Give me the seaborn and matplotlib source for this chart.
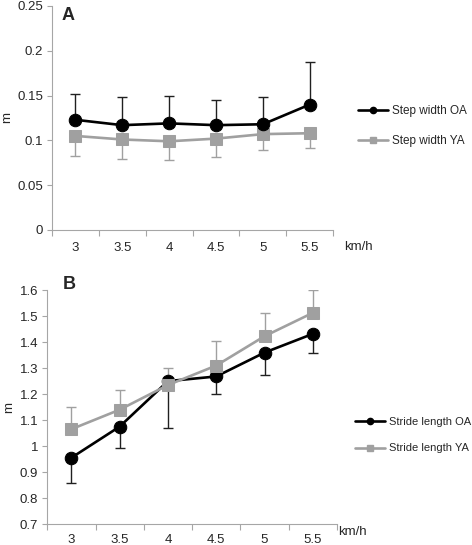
import matplotlib
matplotlib.use("Agg")
import matplotlib.pyplot as plt
from matplotlib.lines import Line2D
import seaborn as sns
import pandas as pd
import numpy as np

speeds = [3, 3.5, 4, 4.5, 5, 5.5]
speed_labels = ["3", "3.5", "4", "4.5", "5", "5.5"]

step_oa = [0.123, 0.117, 0.119, 0.117, 0.118, 0.140]
step_oa_sd = [0.029, 0.031, 0.030, 0.028, 0.030, 0.048]
step_ya = [0.105, 0.101, 0.099, 0.102, 0.107, 0.108]
step_ya_sd = [0.022, 0.022, 0.021, 0.020, 0.018, 0.017]

stride_oa = [0.955, 1.075, 1.250, 1.268, 1.360, 1.432]
stride_oa_sd = [0.097, 0.082, 0.180, 0.068, 0.087, 0.075]
stride_ya = [1.065, 1.140, 1.235, 1.310, 1.423, 1.513]
stride_ya_sd = [0.085, 0.075, 0.065, 0.095, 0.089, 0.087]

sns.set_style("white")
plt.rcParams['font.family'] = ['Liberation Sans', 'DejaVu Sans']

BLACK = "#000000"
GREY = "#a0a0a0"
SPINE = "#a6a6a6"

fig = plt.figure(figsize=(4.72, 5.45), dpi=100)
axA = fig.add_axes([0.110, 0.578, 0.596, 0.411])
axB = fig.add_axes([0.100, 0.0385, 0.614, 0.429])


def draw(ax, oa, oa_sd, ya, ya_sd, names, oa_up, ylim, yticks, yfmt,
         leg_pos, leg_font, leg_space, leg_hlen, xpad):
    df = pd.DataFrame({
        "speed": speeds * 2,
        "value": oa + ya,
        "group": [names[0]] * len(speeds) + [names[1]] * len(speeds),
    })
    z = np.zeros(len(speeds))
    if oa_up:
        ax.errorbar(speeds, oa, yerr=[z, oa_sd], fmt="none", ecolor="#202020",
                    elinewidth=1.0, capsize=3.5, capthick=1.0, zorder=1)
        ax.errorbar(speeds, ya, yerr=[ya_sd, z], fmt="none", ecolor=GREY,
                    elinewidth=1.0, capsize=3.5, capthick=1.0, zorder=1)
    else:
        ax.errorbar(speeds, oa, yerr=[oa_sd, z], fmt="none", ecolor="#202020",
                    elinewidth=1.0, capsize=3.5, capthick=1.0, zorder=1)
        ax.errorbar(speeds, ya, yerr=[z, ya_sd], fmt="none", ecolor=GREY,
                    elinewidth=1.0, capsize=3.5, capthick=1.0, zorder=1)
    order = [names[1], names[0]] if oa_up else [names[0], names[1]]
    for g in order:
        sub = df[df.group == g]
        is_oa = g == names[0]
        sns.lineplot(data=sub, x="speed", y="value", ax=ax,
                     color=BLACK if is_oa else GREY,
                     marker="o" if is_oa else "s",
                     markersize=9 if is_oa else 8.5,
                     markeredgecolor=BLACK if is_oa else GREY,
                     linewidth=1.9, legend=False, zorder=3)
    ax.set_xlim(2.75, 5.75)
    ax.set_ylim(*ylim)
    ax.set_yticks(yticks)
    ax.set_yticklabels([yfmt(v) for v in yticks])
    ax.set_xticks(speeds)
    ax.set_xticklabels(speed_labels)
    ax.set_xticks(np.arange(2.75, 5.76, 0.5), minor=True)
    ax.tick_params(axis="x", which="major", length=0, pad=xpad, labelsize=9.5)
    ax.tick_params(axis="x", which="minor", length=4, color=SPINE, width=0.8, direction="out")
    ax.tick_params(axis="y", length=3.5, color=SPINE, width=0.8, direction="out", labelsize=9.5, pad=3)
    ax.tick_params(bottom=True, left=True, which="both")
    for s in ["top", "right"]:
        ax.spines[s].set_visible(False)
    for s in ["left", "bottom"]:
        ax.spines[s].set_color(SPINE)
        ax.spines[s].set_linewidth(0.8)
    ax.set_xlabel("")
    ax.set_ylabel("m", fontsize=9.5, labelpad=3)
    handles = [
        Line2D([0], [0], color=BLACK, lw=1.9, marker="o", markersize=4.5),
        Line2D([0], [0], color=GREY, lw=1.9, marker="s", markersize=4.5),
    ]
    ax.legend(handles, names, loc="center left", bbox_to_anchor=leg_pos,
              bbox_transform=fig.transFigure,
              frameon=False, fontsize=leg_font, handlelength=leg_hlen, handletextpad=0.35,
              labelspacing=leg_space, borderaxespad=0, borderpad=0)


draw(axA, step_oa, step_oa_sd, step_ya, step_ya_sd,
     ["Step width OA", "Step width YA"], True, (0, 0.25),
     [0, 0.05, 0.1, 0.15, 0.2, 0.25], lambda v: "0" if v == 0 else f"{v:g}",
     (358 / 472, 1 - 126 / 545), 8.5, 1.55, 2.55, 9)
draw(axB, stride_oa, stride_oa_sd, stride_ya, stride_ya_sd,
     ["Stride length OA", "Stride length YA"], False, (0.7, 1.6),
     [0.7, 0.8, 0.9, 1.0, 1.1, 1.2, 1.3, 1.4, 1.5, 1.6], lambda v: f"{v:g}",
     (355 / 472, 1 - 435 / 545), 8, 1.52, 2.7, 7.5)

fig.text(62 / 472, 1 - 7 / 545, "A", fontsize=13, fontweight="bold", va="top", ha="left")
fig.text(63 / 472, 1 - 276 / 545, "B", fontsize=13, fontweight="bold", va="top", ha="left")

fig.text(344 / 472, 1 - 247 / 545, "km/h", fontsize=9.5, va="center", ha="left")
fig.text(338 / 472, 1 - 532 / 545, "km/h", fontsize=9.5, va="center", ha="left")

fig.savefig("out.png", dpi=100)
